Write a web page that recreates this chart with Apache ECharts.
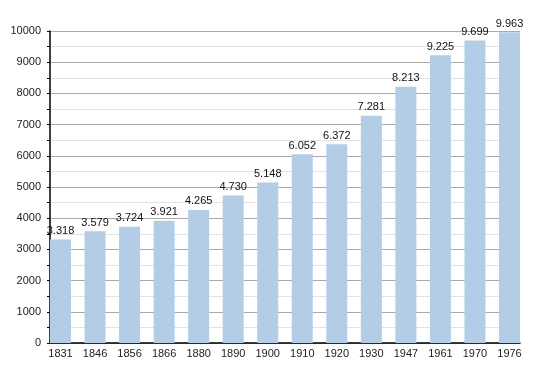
<!DOCTYPE html>
<html><head><meta charset="utf-8">
<script src="https://cdn.jsdelivr.net/npm/echarts@6/dist/echarts.min.js"></script>
<style>html,body{margin:0;padding:0;background:#fff}#c{width:550px;height:373px}</style>
</head><body><div id="c"></div>
<script>
const years = ['1831','1846','1856','1866','1880','1890','1900','1910','1920','1930','1947','1961','1970','1976'];
const population = [3318,3579,3724,3921,4265,4730,5148,6052,6372,7281,8213,9225,9699,9963];
const yTicks = {min:0, max:10000, interval:1000};

const fmt = v => {
  const s = String(v);
  return s.length > 3 ? s.slice(0, s.length-3) + '.' + s.slice(-3) : s;
};
const font = 'Liberation Sans, Arial, sans-serif';
const chart = echarts.init(document.getElementById('c'), null, {renderer:'canvas'});
chart.setOption({
  animation:false,
  grid:[
    {left:50, right:30, top:31, bottom:30},
    {left:60.5, right:40.5, top:31, bottom:30}
  ],
  xAxis:[
    {gridIndex:0, type:'category', data:years, show:true, axisLine:{lineStyle:{color:'#000',width:1.5}}, axisTick:{show:false}, axisLabel:{show:false}},
    {gridIndex:1, type:'category', data:years, boundaryGap:false, axisLine:{show:false}, axisTick:{show:false},
     axisLabel:{color:'#222', fontFamily:font, fontSize:11, margin:5}}
  ],
  yAxis:[
    {gridIndex:0, type:'value', min:yTicks.min, max:yTicks.max, interval:yTicks.interval,
     axisLine:{show:true, lineStyle:{color:'#000',width:1.5}},
     axisTick:{show:true, length:3, lineStyle:{color:'#000'}},
     minorTick:{show:true, splitNumber:2, length:3, lineStyle:{color:'#000'}},
     splitLine:{lineStyle:{color:'#aaaaaa'}},
     minorSplitLine:{show:true, lineStyle:{color:'#e2e2e2'}},
     axisLabel:{color:'#222', fontFamily:font, fontSize:11, margin:9, formatter:v=>String(v)}},
    {gridIndex:1, type:'value', min:yTicks.min, max:yTicks.max, interval:yTicks.interval, show:false}
  ],
  series:[{
    type:'bar', xAxisIndex:1, yAxisIndex:1, data:population, barWidth:21,
    itemStyle:{color:'#b3cde6'},
    label:{show:true, position:'top', distance:3, color:'#111', fontFamily:font, fontSize:11, formatter:p=>fmt(p.value)}
  }]
});
</script></body></html>
